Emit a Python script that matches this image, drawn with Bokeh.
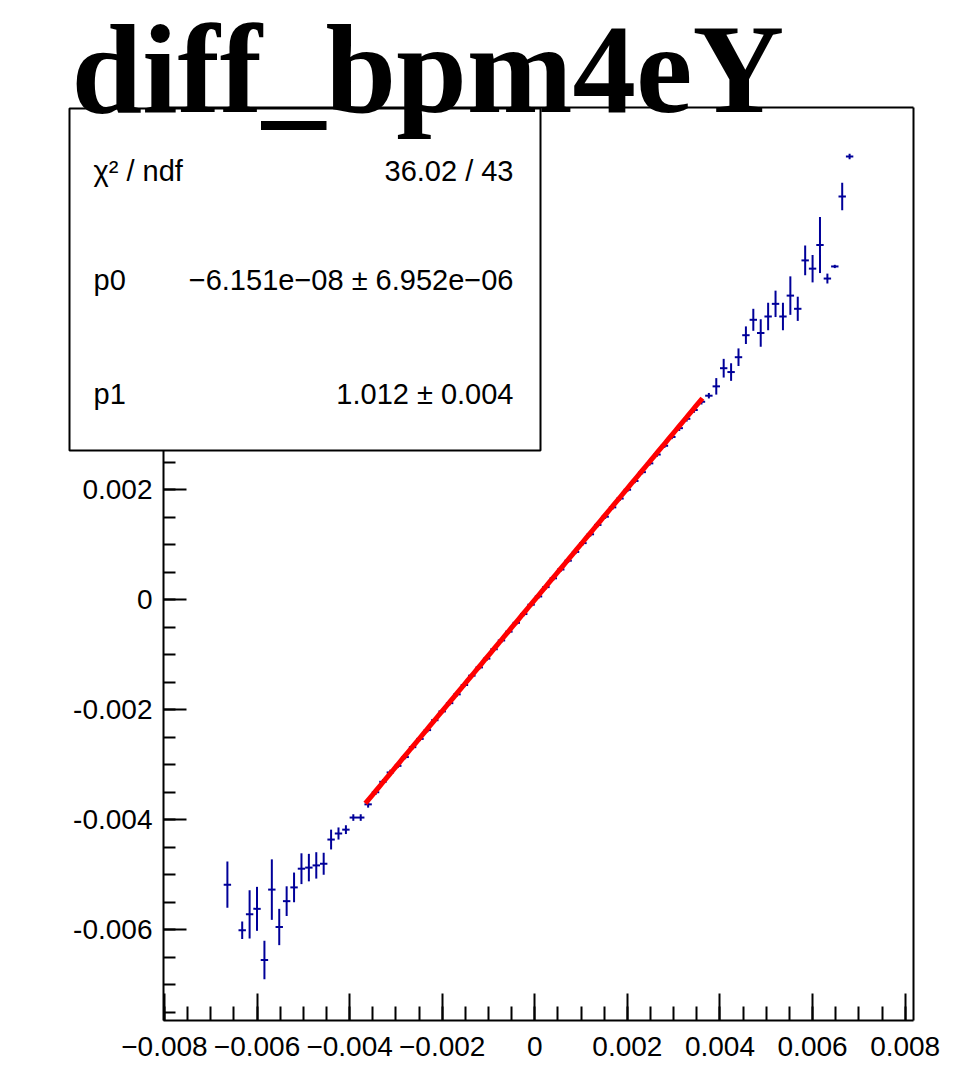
import numpy as np
from bokeh.plotting import figure
from bokeh.models import FixedTicker, LinearAxis, BoxAnnotation, Label, Range1d
from bokeh.embed import file_html
from bokeh.resources import INLINE

# ---------------- data ----------------
title_text = "diff_bpm4eY"

x_vals = [
    -0.00664, -0.00632, -0.00616, -0.00600, -0.00584, -0.00568, -0.00552, -0.00536,
    -0.00520, -0.00504, -0.00488, -0.00472, -0.00456, -0.00440, -0.00424, -0.00408,
    -0.00392, -0.00376, -0.00360, -0.00344, -0.00328, -0.00312, -0.00296, -0.00280,
    -0.00264, -0.00248, -0.00232, -0.00216, -0.00200, -0.00184, -0.00168, -0.00152,
    -0.00136, -0.00120, -0.00104, -0.00088, -0.00072, -0.00056, -0.00040, -0.00024,
    -0.00008, 0.00008, 0.00024, 0.00040, 0.00056, 0.00072, 0.00088, 0.00104,
    0.00120, 0.00136, 0.00152, 0.00168, 0.00184, 0.00200, 0.00216, 0.00232,
    0.00248, 0.00264, 0.00280, 0.00296, 0.00312, 0.00328, 0.00344, 0.00360,
    0.00376, 0.00392, 0.00408, 0.00424, 0.00440, 0.00456, 0.00472, 0.00488,
    0.00504, 0.00520, 0.00536, 0.00552, 0.00568, 0.00584, 0.00600, 0.00616,
    0.00632, 0.00648, 0.00664, 0.00680,
]
y_vals = [
    -0.00518, -0.00601, -0.00572, -0.00562, -0.00655, -0.00527, -0.00595, -0.00548,
    -0.00523, -0.00489, -0.00487, -0.00483, -0.00480, -0.00436, -0.00425, -0.00418,
    -0.00396, -0.00396, -0.00372, -0.00350, -0.00331, -0.00314, -0.00302, -0.00286,
    -0.00268, -0.00253, -0.00237, -0.00219, -0.00203, -0.00188, -0.00172, -0.00155,
    -0.00138, -0.00123, -0.00107, -0.00090, -0.00074, -0.00058, -0.00042, -0.00026,
    -0.00009, 0.00006, 0.00023, 0.00039, 0.00055, 0.00071, 0.00087, 0.00103,
    0.00119, 0.00136, 0.00151, 0.00168, 0.00184, 0.00200, 0.00216, 0.00232,
    0.00248, 0.00264, 0.00280, 0.00296, 0.00312, 0.00329, 0.00345, 0.00360,
    0.00371, 0.00388, 0.00421, 0.00414, 0.00441, 0.00481, 0.00509, 0.00485,
    0.00515, 0.00538, 0.00515, 0.00553, 0.00529, 0.00617, 0.00602, 0.00645,
    0.00584, 0.00606, 0.00733, 0.00806,
]
y_errs = [
    0.00042, 0.00016, 0.00044, 0.00040, 0.00035, 0.00055, 0.00033, 0.00027,
    0.00027, 0.00028, 0.00025, 0.00024, 0.00020, 0.00018, 0.00011, 0.00008,
    0.00006, 0.00006, 0.00006, 0.00005, 0.00005, 0.00005, 0.00004, 0.00004,
    0.00004, 0.00004, 0.00004, 0.00004, 0.00004, 0.00004, 0.00004, 0.00004,
    0.00004, 0.00004, 0.00004, 0.00004, 0.00004, 0.00004, 0.00004, 0.00004,
    0.00004, 0.00004, 0.00004, 0.00004, 0.00004, 0.00004, 0.00004, 0.00004,
    0.00004, 0.00004, 0.00004, 0.00004, 0.00004, 0.00004, 0.00004, 0.00004,
    0.00004, 0.00004, 0.00004, 0.00004, 0.00005, 0.00005, 0.00005, 0.00005,
    0.00005, 0.00015, 0.00017, 0.00016, 0.00016, 0.00016, 0.00020, 0.00025,
    0.00025, 0.00024, 0.00025, 0.00035, 0.00022, 0.00027, 0.00025, 0.00051,
    0.00009, 0.00003, 0.00025, 0.00005,
]
bin_width = 0.00016

p0 = -6.151e-08
p1 = 1.012
fit_range = [-0.00366, 0.00362]

stat_names = ["χ² / ndf", "p0", "p1"]
stat_values = ["36.02 / 43", "−6.151e−08 ± 6.952e−06", "1.012 ± 0.004"]

x_axis_range = [-0.00802, 0.00818]
y_axis_range = [-0.00765, 0.00895]
x_ticks = [-0.008, -0.006, -0.004, -0.002, 0.0, 0.002, 0.004, 0.006, 0.008]
x_tick_labels = ["−0.008", "−0.006", "−0.004", "−0.002", "0", "0.002", "0.004", "0.006", "0.008"]
y_ticks = [-0.006, -0.004, -0.002, 0.0, 0.002]
y_tick_labels = ["-0.006", "-0.004", "-0.002", "0", "0.002"]

# ---------------- geometry (pixels) ----------------
W, H = 970, 1070
FL, FR, FT, FB = 163, 913, 107, 1020          # ROOT frame box on the canvas

kx = (x_axis_range[1] - x_axis_range[0]) / (FR - FL)
ky = (y_axis_range[1] - y_axis_range[0]) / (FB - FT)
x_start = x_axis_range[0] - FL * kx
x_end = x_axis_range[0] + (W - FL) * kx
y_end = y_axis_range[1] + FT * ky
y_start = y_axis_range[0] - (H - FB) * ky

p = figure(width=W, height=H,
           x_range=Range1d(x_start, x_end), y_range=Range1d(y_start, y_end),
           output_backend="svg", toolbar_location=None,
           min_border_left=0, min_border_right=0, min_border_top=0, min_border_bottom=0)
p.outline_line_color = None
p.grid.visible = False
p.background_fill_color = "white"
p.border_fill_color = "white"

x_minor = [round(v, 5) for v in np.arange(-0.008, 0.00801, 0.0005)]
y_minor = [round(v, 5) for v in np.arange(-0.0075, 0.0089, 0.0005)]

xa = p.xaxis[0]
xa.ticker = FixedTicker(ticks=x_ticks, minor_ticks=x_minor)
xa.major_label_overrides = {t: l for t, l in zip(x_ticks, x_tick_labels)}
xa.fixed_location = y_axis_range[0]
xa.bounds = (x_axis_range[0], x_axis_range[1])
ya = p.yaxis[0]
ya.ticker = FixedTicker(ticks=y_ticks, minor_ticks=y_minor)
ya.major_label_overrides = {t: l for t, l in zip(y_ticks, y_tick_labels)}
ya.fixed_location = x_axis_range[0]
ya.bounds = (y_axis_range[0], y_axis_range[1])

for ax, maj, mnr, so in ((xa, 27, 14, 16), (ya, 23, 12, 11)):
    ax.axis_line_width = 2
    ax.axis_line_color = "black"
    ax.major_tick_in = maj
    ax.major_tick_out = 0
    ax.minor_tick_in = mnr
    ax.minor_tick_out = 0
    ax.major_tick_line_width = 2
    ax.minor_tick_line_width = 2
    ax.major_tick_line_color = "black"
    ax.minor_tick_line_color = "black"
    ax.major_label_text_font = "Liberation Sans"
    ax.major_label_text_font_size = "28px"
    ax.major_label_text_color = "black"
    ax.major_label_standoff = so

for loc, fl, bd in (("right", x_axis_range[1], y_axis_range), ("above", y_axis_range[1], x_axis_range)):
    a = LinearAxis(ticker=FixedTicker(ticks=[]), axis_line_width=2, axis_line_color="black",
                   major_tick_line_color=None, minor_tick_line_color=None,
                   major_label_text_font_size="0px", fixed_location=fl, bounds=(bd[0], bd[1]))
    p.add_layout(a, loc)

# ---------------- data marks ----------------
xv = np.array(x_vals)
yv = np.array(y_vals)
ev = np.array(y_errs)
blue = "#000099"
p.segment(x0=xv, y0=yv - ev, x1=xv, y1=yv + ev, line_color=blue, line_width=2)
p.segment(x0=xv - bin_width / 2, y0=yv, x1=xv + bin_width / 2, y1=yv, line_color=blue, line_width=2)

fx = np.linspace(fit_range[0], fit_range[1], 100)
p.line(fx, p0 + p1 * fx, line_color="#ff0000", line_width=5)

# ---------------- stats box ----------------
box = BoxAnnotation(left=69, right=540, bottom=H - 450, top=H - 108,
                    left_units="screen", right_units="screen",
                    top_units="screen", bottom_units="screen",
                    fill_color="white", fill_alpha=1.0,
                    line_color="black", line_width=2, line_alpha=1.0)
p.add_layout(box)

rows_center = [170, 279, 393]
for name, val, yy in zip(stat_names, stat_values, rows_center):
    p.add_layout(Label(x=93, y=H - yy, x_units="screen", y_units="screen", text=name,
                       text_font="Liberation Sans", text_font_size="29px",
                       text_baseline="alphabetic", text_align="left", text_color="black"))
    p.add_layout(Label(x=513, y=H - yy, x_units="screen", y_units="screen", text=val,
                       text_font="Liberation Sans", text_font_size="29px",
                       text_baseline="alphabetic", text_align="right", text_color="black"))

p.add_layout(Label(x=71, y=H - 68, x_units="screen", y_units="screen", text=title_text,
                   text_font="Liberation Serif", text_font_style="bold", text_font_size="127px",
                   text_baseline="alphabetic", text_align="left", text_color="black"))

open("out.html", "w").write(file_html(p, INLINE))
